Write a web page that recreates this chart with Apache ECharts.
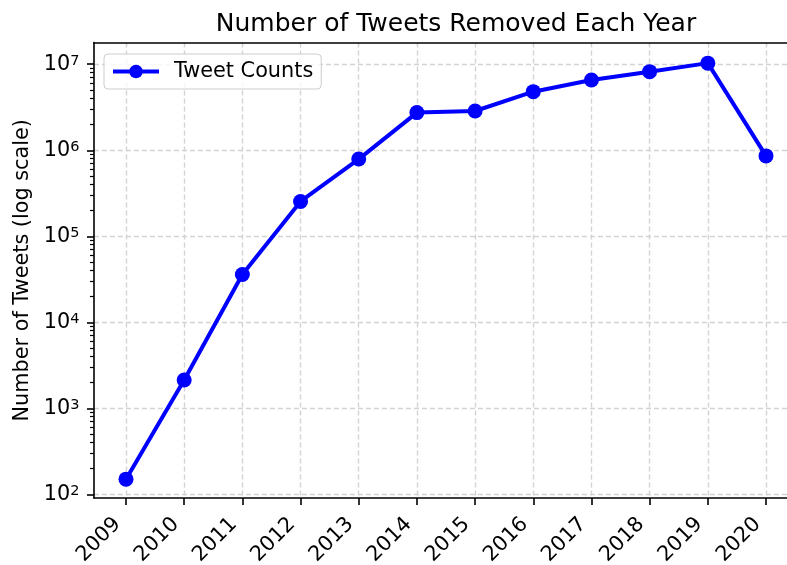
<!DOCTYPE html>
<html>
<head>
<meta charset="utf-8">
<script src="https://cdn.jsdelivr.net/npm/echarts@6/dist/echarts.min.js"></script>
<style>
  html, body { margin: 0; padding: 0; background: #fff; }
  #chart { width: 787px; height: 565px; }
</style>
</head>
<body>
<div id="chart"></div>
<script>
// Tweets removed per year (plotted on a log scale)
const years = [2009, 2010, 2011, 2012, 2013, 2014, 2015, 2016, 2017, 2018, 2019, 2020];
const tweetCounts = [150, 2130, 36000, 254000, 790000, 2740000, 2860000, 4800000, 6560000, 8200000, 10300000, 860000];
const yMajorTicks = [1e2, 1e3, 1e4, 1e5, 1e6, 1e7];

// Axis ranges
const xMin = 2008.45, xMax = 2020.55;
const yMin = 90.6, yMax = 1.79e7;

// Minor log ticks: 2..9 within every decade inside the range
const yMinorTicks = [];
for (let e = 1; e <= 7; e++) {
  for (let m = 2; m <= 9; m++) {
    const v = m * Math.pow(10, e);
    if (v > yMin && v < yMax) yMinorTicks.push(v);
  }
}

const FONT = 'DejaVu Sans';
const LABEL_SIZE = 20.8;
const chart = echarts.init(document.getElementById('chart'), null, { renderer: 'canvas' });

const gridLine = { show: true, lineStyle: { color: '#d3d3d3', width: 1.4, type: [5, 3] } };
const spine = { show: true, lineStyle: { color: '#000', width: 1.6 } };

chart.setOption({
  backgroundColor: '#ffffff',
  animation: false,
  textStyle: { fontFamily: FONT },
  title: {
    text: 'Number of Tweets Removed Each Year',
    left: 451,
    textAlign: 'center',
    top: 7,
    textStyle: { fontFamily: FONT, fontSize: 25, fontWeight: 'normal', color: '#000' }
  },
  grid: {
    left: 94, right: -11, top: 42.5, bottom: 67,
    outerBoundsMode: 'none',
    containLabel: false,
    show: false
  },
  legend: {
    data: ['Tweet Counts'],
    left: 104, top: 54,
    padding: [7, 8, 7, 7],
    itemWidth: 46, itemHeight: 17,
    backgroundColor: 'rgba(255,255,255,0.8)',
    borderColor: '#cccccc', borderWidth: 1, borderRadius: 4,
    lineStyle: { width: 4 },
    textStyle: { fontFamily: FONT, fontSize: LABEL_SIZE, color: '#000', padding: [0, 0, 0, 10] }
  },
  xAxis: [
    {
      type: 'value',
      min: xMin, max: xMax,
      axisLine: spine,
      axisTick: { show: true, length: 7, lineStyle: { color: '#000', width: 1.6 }, customValues: years },
      axisLabel: {
        customValues: years,
        rotate: 45,
        margin: 14.6,
        padding: [0, 12, 0, 0],
        fontFamily: FONT, fontSize: LABEL_SIZE, color: '#000',
        formatter: v => String(Math.round(v))
      },
      splitLine: gridLine
    },
    {
      // top spine of the frame
      type: 'value',
      position: 'top',
      min: xMin, max: xMax,
      axisLine: spine,
      axisTick: { show: false },
      axisLabel: { show: false },
      splitLine: { show: false }
    }
  ],
  yAxis: [
    {
      type: 'log',
      logBase: 10,
      min: yMin, max: yMax,
      name: 'Number of Tweets (log scale)',
      nameLocation: 'middle',
      nameGap: 58,
      nameTextStyle: { fontFamily: FONT, fontSize: LABEL_SIZE, color: '#000' },
      axisLine: spine,
      axisTick: { show: true, length: 7, lineStyle: { color: '#000', width: 1.6 }, customValues: yMajorTicks },
      axisLabel: {
        customValues: yMajorTicks,
        margin: 14.6,
        color: '#000',
        formatter: v => '{b|10}{e|' + Math.round(Math.log10(v)) + '}',
        rich: {
          b: { fontFamily: FONT, fontSize: LABEL_SIZE, color: '#000', verticalAlign: 'bottom' },
          e: { fontFamily: FONT, fontSize: 14.5, color: '#000', verticalAlign: 'top' }
        }
      },
      splitLine: gridLine
    },
    {
      // minor log ticks on the left spine
      type: 'log',
      logBase: 10,
      min: yMin, max: yMax,
      position: 'left',
      offset: 0,
      axisLine: { show: false },
      axisTick: { show: true, length: 4, lineStyle: { color: '#000', width: 1.2 }, customValues: yMinorTicks },
      axisLabel: { show: false },
      splitLine: { show: false }
    }
  ],
  series: [
    {
      name: 'Tweet Counts',
      type: 'line',
      xAxisIndex: 0,
      yAxisIndex: 0,
      data: years.map((y, i) => [y, tweetCounts[i]]),
      symbol: 'circle',
      symbolSize: 15,
      color: '#0000ff',
      lineStyle: { color: '#0000ff', width: 4 },
      itemStyle: { color: '#0000ff' },
      z: 5
    }
  ]
});
</script>
</body>
</html>
